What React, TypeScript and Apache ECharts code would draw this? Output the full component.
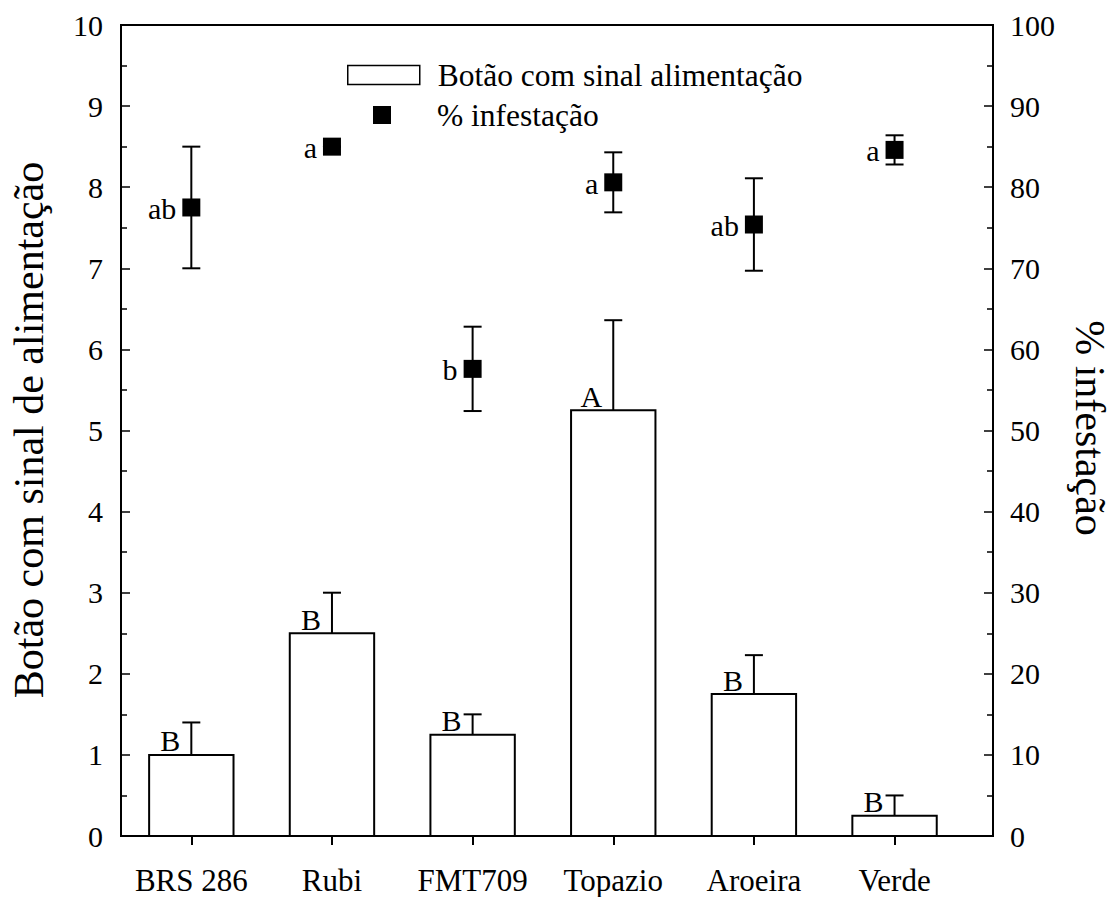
import React, { useEffect, useRef } from "react";
import * as echarts from "echarts";

const categories = ["BRS 286", "Rubi", "FMT709", "Topazio", "Aroeira", "Verde"];
const budValues = [1.0, 2.5, 1.25, 5.25, 1.75, 0.25];
const budErrors = [0.4, 0.5, 0.25, 1.11, 0.48, 0.25];
const budLetters = ["B", "B", "B", "A", "B", "B"];
const infValues = [77.5, 85.0, 57.6, 80.6, 75.4, 84.6];
const infErrors = [7.5, 0, 5.2, 3.7, 5.7, 1.8];
const infLetters = ["ab", "a", "b", "a", "ab", "a"];
const leftTicks = [0, 10, 1];
const rightTicks = [0, 100, 10];

const barName = "Botão com sinal alimentação";
const pointName = "% infestação";
const leftTitle = "Botão com sinal de alimentação";
const rightTitle = "% infestação";

const FONT = "'Liberation Serif', 'Times New Roman', serif";

export default function App() {
  const ref = useRef<HTMLDivElement>(null);
  useEffect(() => {
    document.body.style.margin = "0";
    const chart = echarts.init(ref.current!, null, { renderer: "svg" });
    const xPos = categories.map((_, i) => i + 0.5);
    const barData = categories.map((_, i) => [xPos[i], budValues[i], budErrors[i], i]);
    const pointData = categories.map((_, i) => [xPos[i], infValues[i], infErrors[i], i]);
    const cap = 9;
    const option: any = {
      animation: false,
      backgroundColor: "#fff",
      textStyle: { fontFamily: FONT },
      grid: {
        left: 121,
        right: 124,
        top: 25,
        bottom: 61,
        show: true,
        borderColor: "#000",
        borderWidth: 2,
        backgroundColor: "transparent",
        outerBoundsMode: "none",
      },
      legend: [
        {
          data: [{ name: barName, icon: "rect" }],
          left: 347,
          top: 59,
          padding: 0,
          itemWidth: 72,
          itemHeight: 19,
          itemStyle: { color: "#fff", borderColor: "#000", borderWidth: 1.5 },
          textStyle: { fontFamily: FONT, fontSize: 31.5, color: "#000", padding: [0, 0, 0, 13] },
          selectedMode: false,
        },
        {
          data: [{ name: pointName, icon: "rect" }],
          left: 373,
          top: 99,
          padding: 0,
          itemWidth: 18,
          itemHeight: 18,
          itemStyle: { color: "#000", opacity: 1 },
          textStyle: { fontFamily: FONT, fontSize: 31.5, color: "#000", padding: [0, 0, 0, 41] },
          selectedMode: false,
        },
      ],
      xAxis: {
        type: "value",
        min: 0,
        max: 6.2,
        splitLine: { show: false },
        axisLine: { show: true, lineStyle: { color: "#000", width: 2 } },
        axisTick: {
          show: true,
          inside: false,
          length: 9,
          lineStyle: { color: "#000", width: 2 },
          customValues: xPos,
        },
        axisLabel: {
          show: true,
          customValues: xPos,
          margin: 29,
          fontSize: 31,
          fontFamily: FONT,
          color: "#000",
          formatter: (v: number) => categories[Math.round(v - 0.5)] ?? "",
        },
      },
      yAxis: [
        {
          type: "value",
          min: leftTicks[0],
          max: leftTicks[1],
          interval: leftTicks[2],
          position: "left",
          splitLine: { show: false },
          axisLine: { show: true, lineStyle: { color: "#000", width: 2 } },
          axisTick: { show: true, inside: true, length: 9, lineStyle: { color: "#000", width: 1.5 } },
          minorTick: { show: true, splitNumber: 2, length: 6, lineStyle: { color: "#000", width: 1.5 } },
          axisLabel: { margin: 18, fontSize: 30, fontFamily: FONT, color: "#000" },
        },
        {
          type: "value",
          min: rightTicks[0],
          max: rightTicks[1],
          interval: rightTicks[2],
          position: "right",
          splitLine: { show: false },
          axisLine: { show: true, lineStyle: { color: "#000", width: 2 } },
          axisTick: { show: true, inside: true, length: 9, lineStyle: { color: "#000", width: 1.5 } },
          minorTick: { show: true, splitNumber: 2, length: 6, lineStyle: { color: "#000", width: 1.5 } },
          axisLabel: { margin: 17, fontSize: 30, fontFamily: FONT, color: "#000" },
        },
      ],
      graphic: [
        {
          type: "text",
          x: 29,
          y: 430,
          rotation: Math.PI / 2,
          style: {
            text: leftTitle,
            fontSize: 42,
            fontFamily: FONT,
            fill: "#000",
            align: "center",
            verticalAlign: "middle",
          },
        },
        {
          type: "text",
          x: 1090,
          y: 428,
          rotation: -Math.PI / 2,
          style: {
            text: rightTitle,
            fontSize: 42,
            fontFamily: FONT,
            fill: "#000",
            align: "center",
            verticalAlign: "middle",
          },
        },
      ],
      series: [
        {
          name: barName,
          type: "custom",
          xAxisIndex: 0,
          yAxisIndex: 0,
          dimensions: ["x", "y", "err", "idx"],
          encode: { x: 0, y: 1 },
          itemStyle: { color: "#fff", borderColor: "#000", borderWidth: 1.5 },
          data: barData,
          z: 2,
          renderItem: (params: any, api: any) => {
            const x = api.value(0);
            const v = api.value(1);
            const e = api.value(2);
            const idx = api.value(3);
            const base = api.coord([x, 0]);
            const top = api.coord([x, v]);
            const errTop = api.coord([x, v + e]);
            const w = api.size([0.6, 0])[0];
            const ls = { stroke: "#000", lineWidth: 2 };
            return {
              type: "group",
              children: [
                {
                  type: "rect",
                  shape: { x: base[0] - w / 2, y: top[1], width: w, height: base[1] - top[1] },
                  style: { fill: "#fff", stroke: "#000", lineWidth: 2 },
                },
                { type: "line", shape: { x1: top[0], y1: top[1], x2: top[0], y2: errTop[1] }, style: ls },
                { type: "line", shape: { x1: top[0] - cap, y1: errTop[1], x2: top[0] + cap, y2: errTop[1] }, style: ls },
                {
                  type: "text",
                  style: {
                    text: budLetters[idx],
                    x: top[0] - 11,
                    y: top[1] - 14,
                    align: "right",
                    verticalAlign: "middle",
                    fontSize: 30,
                    fontFamily: FONT,
                    fill: "#000",
                  },
                },
              ],
            };
          },
        },
        {
          name: pointName + " err",
          type: "custom",
          xAxisIndex: 0,
          yAxisIndex: 1,
          dimensions: ["x", "y", "err", "idx"],
          encode: { x: 0, y: 1 },
          data: pointData,
          z: 3,
          renderItem: (params: any, api: any) => {
            const x = api.value(0);
            const v = api.value(1);
            const e = api.value(2);
            const lo = api.coord([x, v - e]);
            const hi = api.coord([x, v + e]);
            const ls = { stroke: "#000", lineWidth: 2 };
            return {
              type: "group",
              children: [
                { type: "line", shape: { x1: lo[0], y1: lo[1], x2: hi[0], y2: hi[1] }, style: ls },
                { type: "line", shape: { x1: lo[0] - cap, y1: lo[1], x2: lo[0] + cap, y2: lo[1] }, style: ls },
                { type: "line", shape: { x1: hi[0] - cap, y1: hi[1], x2: hi[0] + cap, y2: hi[1] }, style: ls },
              ],
            };
          },
        },
        {
          name: pointName,
          type: "scatter",
          xAxisIndex: 0,
          yAxisIndex: 1,
          symbol: "rect",
          symbolSize: 18,
          itemStyle: { color: "#000", opacity: 1 },
          z: 4,
          data: pointData.map((d) => [d[0], d[1]]),
          label: {
            show: true,
            position: "left",
            distance: 6,
            offset: [0, 1],
            fontSize: 30,
            fontFamily: FONT,
            color: "#000",
            opacity: 1,
            formatter: (p: any) => infLetters[p.dataIndex],
          },
        },
      ],
    };
    chart.setOption(option);
    return () => chart.dispose();
  }, []);
  return <div ref={ref} style={{ width: 1117, height: 897 }} />;
}
